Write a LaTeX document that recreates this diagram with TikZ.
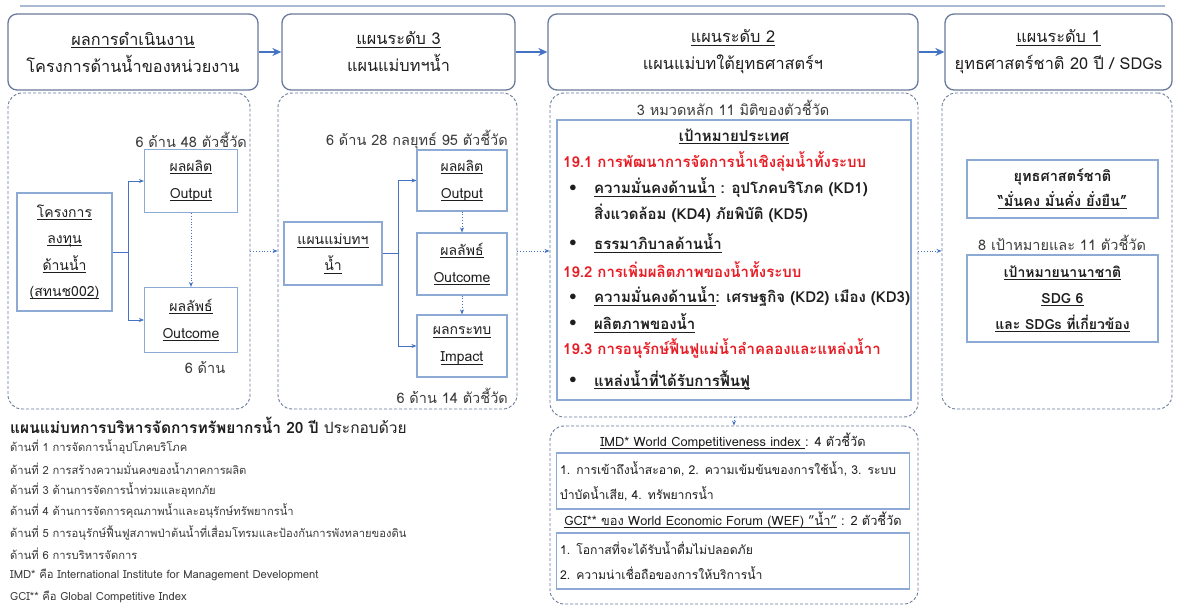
\documentclass[tikz,border=0pt]{standalone}
\usepackage{fontspec}
\setmainfont[Script=Thai]{Loma}
\usetikzlibrary{arrows.meta}
\definecolor{hdrc}{RGB}{105,122,155}
\definecolor{pnlc}{RGB}{105,122,155}
\definecolor{boxc}{RGB}{140,170,212}
\definecolor{arrc}{RGB}{68,114,196}
\definecolor{redt}{RGB}{232,28,36}
\definecolor{topl}{RGB}{170,186,212}
\definecolor{txt}{RGB}{30,30,30}
\definecolor{lbltxt}{RGB}{60,60,60}
\newcommand\ulx[1]{\setbox0\hbox{#1}\rlap{\copy0}\rule[-2.4pt]{\wd0}{0.6pt}}
\tikzset{
  hdr/.style={draw=hdrc, line width=1.3pt, rounded corners=9pt, fill=white, align=center,
    font=\fontsize{16.3}{27}\selectfont, text=txt},
  panel/.style={draw=pnlc, dash pattern=on 3pt off 2pt, line width=0.9pt, rounded corners=14pt},
  ibox/.style={draw=boxc, line width=1.2pt, fill=white, align=center, text=txt},
  bigarr/.style={-{Stealth[length=9pt,width=8pt]}, line width=1.8pt, draw=arrc},
  conn/.style={-{Stealth[length=5pt,width=4pt]}, line width=0.8pt, draw=arrc},
  dotarr/.style={-{Stealth[length=5pt,width=4pt]}, line width=0.8pt, draw=arrc, dotted},
  lbl/.style={font=\fontsize{14.5}{18}\selectfont, text=lbltxt, inner sep=0pt},
  tx/.style={inner sep=0pt, text=txt, font=\fontsize{15}{18}\selectfont\bfseries},
  redl/.style={inner sep=0pt, anchor=west, text=redt, font=\fontsize{15}{18}\selectfont\bfseries},
  sm/.style={inner sep=0pt, anchor=west, text=lbltxt, font=\fontsize{11.2}{14}\selectfont},
}
\begin{document}
\begin{tikzpicture}[x=1pt,y=-1pt]
\useasboundingbox[fill=white] (0,0) rectangle (1184,607);
% top line
\coordinate (tl1) at (20,6);
\coordinate (tl2) at (1165,6);
\draw[topl, line width=1.6pt] (tl1) -- (tl2);
% headers
\node[hdr, minimum width=250, minimum height=76] (h1) at (133,52) {\ulx{ผลการดำเนินงาน}\\โครงการด้านน้ำของหน่วยงาน};
\node[hdr, minimum width=233, minimum height=76] (h2) at (398.5,52) {\ulx{แผนระดับ 3}\\แผนแม่บทฯน้ำ};
\node[hdr, minimum width=370, minimum height=76] (h3) at (733,52) {\ulx{แผนระดับ 2}\\แผนแม่บทใต้ยุทธศาสตร์ฯ};
\node[hdr, minimum width=227, minimum height=76] (h4) at (1058.5,52) {\ulx{แผนระดับ 1}\\ยุทธศาสตร์ชาติ 20 ปี / SDGs};
\draw[bigarr] (h1.east) -- (h2.west);
\draw[bigarr] (h2.east) -- (h3.west);
\draw[bigarr] (h3.east) -- (h4.west);
% panels
\node[panel, minimum width=242, minimum height=316] (p1) at (129,251) {};
\node[panel, minimum width=239, minimum height=316] (p2) at (397.5,251) {};
\node[panel, minimum width=368, minimum height=324] (p3) at (734,255) {};
\node[panel, minimum width=230, minimum height=316] (p4) at (1057,251) {};
\node[panel, minimum width=368, minimum height=178] (p5) at (734,515) {};
\draw[dotarr] (p1.east) -- (p2.west);
\draw[dotarr] (p2.east) -- (p2.east -| p3.west);
\draw[dotarr] (p2.east -| p3.east) -- (p2.east -| p4.west);
\draw[dotarr] (p3.south) -- (p5.north);
% panel 1
\node[lbl, anchor=east] (l1) at (247,140) {6 ด้าน 48 ตัวชี้วัด};
\node[ibox, minimum width=95, minimum height=118, font=\fontsize{14}{26.5}\selectfont] (proj) at (64.5,252) {\ulx{โครงการ}\\\ulx{ลงทุน}\\\ulx{ด้านน้ำ}\\\ulx{(สทนช002)}};
\node[ibox, minimum width=93, minimum height=63, font=\fontsize{14}{27}\selectfont] (out1) at (191,181) {\ulx{ผลผลิต}\\\ulx{Output}};
\node[ibox, minimum width=93, minimum height=65, font=\fontsize{14}{27}\selectfont] (oc1) at (191,320) {\ulx{ผลลัพธ์}\\\ulx{Outcome}};
\node[lbl] (l2) at (205,367) {6 ด้าน};
\draw[conn] (proj.east) -- ++(16,0) coordinate (b1) |- (out1.west);
\draw[conn] (b1) |- (oc1.west);
\draw[dotarr] (out1.south) -- (oc1.north);
% panel 2
\node[lbl, anchor=east] (l3) at (508,140) {6 ด้าน 28 กลยุทธ์ 95 ตัวชี้วัด};
\node[ibox, minimum width=98, minimum height=63, font=\fontsize{14}{26}\selectfont] (mp) at (333,253.5) {\ulx{แผนแม่บทฯ}\\\ulx{น้ำ}};
\node[ibox, minimum width=90, minimum height=61, font=\fontsize{14}{27}\selectfont] (out2) at (462,180.5) {\ulx{ผลผลิต}\\\ulx{Output}};
\node[ibox, minimum width=90, minimum height=62, font=\fontsize{14}{27}\selectfont] (oc2) at (462,264) {\ulx{ผลลัพธ์}\\\ulx{Outcome}};
\node[ibox, minimum width=90, minimum height=62, font=\fontsize{14}{27}\selectfont] (im2) at (462,346) {\ulx{ผลกระทบ}\\\ulx{Impact}};
\node[lbl, anchor=east] (l4) at (508,396) {6 ด้าน 14 ตัวชี้วัด};
\draw[conn] (mp.east) -- ++(16,0) coordinate (b2) |- (out2.west);
\draw[conn] (b2) |- (im2.west);
\draw[dotarr] (out2.south) -- (oc2.north);
\draw[dotarr] (oc2.south) -- (im2.north);
% panel 3
\node[lbl] (l5) at (733,108) {3 หมวดหลัก 11 มิติของตัวชี้วัด};
\node[ibox, minimum width=354, minimum height=280] (goal) at (734,260) {};
\node[tx] (g0) at (734,136) {\ulx{เป้าหมายประเทศ}};
\node[redl] (g1) at (563,162) {19.1 การพัฒนาการจัดการน้ำเชิงลุ่มน้ำทั้งระบบ};
\node[tx] (d1) at (573,188) {$\bullet$};
\node[tx, anchor=west] (g2) at (594,188) {\ulx{ความมั่นคงด้านน้ำ} : อุปโภคบริโภค (KD1)};
\node[tx, anchor=west] (g3) at (594,213) {สิ่งแวดล้อม (KD4) ภัยพิบัติ (KD5)};
\node[tx] (d2) at (573,243) {$\bullet$};
\node[tx, anchor=west] (g4) at (594,243) {\ulx{ธรรมาภิบาลด้านน้ำ}};
\node[redl] (g5) at (563,270) {19.2 การเพิ่มผลิตภาพของน้ำทั้งระบบ};
\node[tx] (d3) at (573,297) {$\bullet$};
\node[tx, anchor=west] (g6) at (594,297) {\ulx{ความมั่นคงด้านน้ำ}: เศรษฐกิจ (KD2) เมือง (KD3)};
\node[tx] (d4) at (573,323) {$\bullet$};
\node[tx, anchor=west] (g7) at (594,323) {\ulx{ผลิตภาพของน้ำ}};
\node[redl] (g8) at (563,349) {19.3 การอนุรักษ์ฟื้นฟูแม่น้ำลำคลองและแหล่งน้ำา};
\node[tx] (d5) at (573,380) {$\bullet$};
\node[tx, anchor=west] (g9) at (594,380) {\ulx{แหล่งน้ำที่ได้รับการฟื้นฟู}};
% lower panel
\node[lbl, text=txt, anchor=base, font=\fontsize{12.8}{16}\selectfont] (i0) at (733,446) {\ulx{IMD* World Competitiveness index }: 4 ตัวชี้วัด};
\node[ibox, minimum width=350, minimum height=56, align=left, text width=346, font=\fontsize{12.2}{25}\selectfont] (imd) at (733,481) {1. การเข้าถึงน้ำสะอาด, 2. ความเข้มข้นของการใช้น้ำ, 3. ระบบ\\บำบัดน้ำเสีย, 4. ทรัพยากรน้ำ};
\node[lbl, text=txt, anchor=base, font=\fontsize{12.8}{16}\selectfont] (c0) at (733,525) {\ulx{GCI** ของ World Economic Forum (WEF) "น้ำ"} : 2 ตัวชี้วัด};
\node[ibox, minimum width=350, minimum height=56, align=left, text width=346, font=\fontsize{12.2}{25}\selectfont] (gci) at (733,561) {1. โอกาสที่จะได้รับน้ำดื่มไม่ปลอดภัย\\2. ความน่าเชื่อถือของการให้บริการน้ำ};
% panel 4
\node[ibox, minimum width=191, minimum height=58, font=\fontsize{14.5}{25}\selectfont\bfseries] (ns) at (1062.5,189) {ยุทธศาสตร์ชาติ\\\ulx{“มั่นคง มั่นคั่ง ยั่งยืน”}};
\node[lbl] (l6) at (1062,243) {8 เป้าหมายและ 11 ตัวชี้วัด};
\node[ibox, minimum width=191, minimum height=87, font=\fontsize{14}{26}\selectfont\bfseries] (sdg) at (1062.5,298.5) {\ulx{เป้าหมายนานาชาติ}\\\ulx{SDG 6}\\\ulx{และ SDGs ที่เกี่ยวข้อง}};
% bottom-left text
\node[inner sep=0pt, anchor=west, text=txt, font=\fontsize{15.5}{18}\selectfont] (bt) at (10,425) {\textbf{แผนแม่บทการบริหารจัดการทรัพยากรน้ำ 20 ปี} ประกอบด้วย};
\node[sm] (s1) at (10,447) {ด้านที่ 1 การจัดการน้ำอุปโภคบริโภค};
\node[sm] (s2) at (10,468.4) {ด้านที่ 2 การสร้างความมั่นคงของน้ำภาคการผลิต};
\node[sm] (s3) at (10,489.8) {ด้านที่ 3 ด้านการจัดการน้ำท่วมและอุทกภัย};
\node[sm] (s4) at (10,511.2) {ด้านที่ 4 ด้านการจัดการคุณภาพน้ำและอนุรักษ์ทรัพยากรน้ำ};
\node[sm] (s5) at (10,532.6) {ด้านที่ 5 การอนุรักษ์ฟื้นฟูสภาพป่าต้นน้ำที่เสื่อมโทรมและป้องกันการพังทลายของดิน};
\node[sm] (s6) at (10,554) {ด้านที่ 6 การบริหารจัดการ};
\node[sm] (s7) at (10,575.4) {IMD* คือ International Institute for Management Development};
\node[sm] (s8) at (10,596.8) {GCI** คือ Global Competitive Index};
\end{tikzpicture}
\end{document}
